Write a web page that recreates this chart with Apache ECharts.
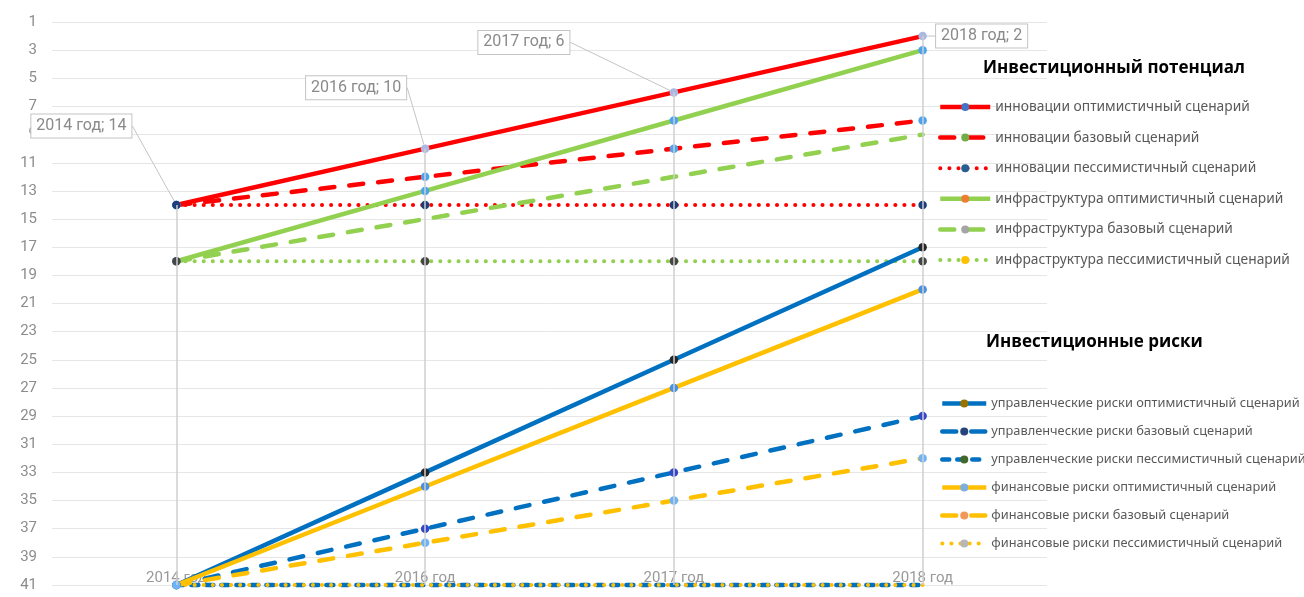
<!DOCTYPE html>
<html lang="ru">
<head>
  <meta charset="UTF-8">
  <script src="https://cdn.jsdelivr.net/npm/echarts@6/dist/echarts.min.js"></script>
  <title>Инвестиционный потенциал и риски</title>
  <style>
    html, body { margin: 0; padding: 0; background: #fff; }
    .container { width: 1304px; height: 597px; }
  </style>
</head>
<body>
  <div class="container"></div>
  <script>
    // categories and axis
    const years = ['2014 год', '2016 год', '2017 год', '2018 год'];
    const yMin = 1;
    const yMax = 41;
    const yStep = 2;

    // инвестиционный потенциал (место в рейтинге)
    const innovOpt = [14, 10, 6, 2];
    const innovBase = [14, 12, 10, 8];
    const innovPess = [14, 14, 14, 14];
    const infraOpt = [18, 13, 8, 3];
    const infraBase = [18, 15, 12, 9];
    const infraPess = [18, 18, 18, 18];

    // инвестиционные риски
    const mgmtOpt = [41, 33, 25, 17];
    const mgmtBase = [41, 37, 33, 29];
    const mgmtPess = [41, 41, 41, 41];
    const finOpt = [41, 34, 27, 20];
    const finBase = [41, 38, 35, 32];
    const finPess = [41, 41, 41, 41];

    const potentialNames = [
      'инновации оптимистичный сценарий',
      'инновации базовый сценарий',
      'инновации пессимистичный сценарий',
      'инфраструктура оптимистичный сценарий',
      'инфраструктура базовый сценарий',
      'инфраструктура пессимистичный сценарий',
    ];
    const riskNames = [
      'управленческие риски оптимистичный сценарий',
      'управленческие риски базовый сценарий',
      'управленческие риски пессимистичный сценарий',
      'финансовые риски оптимистичный сценарий',
      'финансовые риски базовый сценарий',
      'финансовые риски пессимистичный сценарий',
    ];

    const allValues = [innovOpt, innovBase, innovPess, infraOpt, infraBase, infraPess,
      mgmtOpt, mgmtBase, mgmtPess, finOpt, finBase, finPess];

    const RED = '#ff0000', GREEN = '#92d050', BLUE = '#0070c0', YELLOW = '#ffc000';
    const SOLID = 'solid';
    const DASH = [14, 15];
    const DOT = [0.1, 9];
    const SHORT = [7, 8];

    const mkSeries = (name, data, color, dash, marker, width) => ({
      name: name,
      type: 'line',
      data: data,
      clip: false,
      symbol: marker ? 'circle' : 'none',
      symbolSize: 8.5,
      showSymbol: !!marker,
      itemStyle: { color: marker || color },
      lineStyle: {
        color: color,
        width: width || 4.5,
        type: dash,
        cap: dash === SOLID ? 'butt' : 'round',
      },
      emphasis: { disabled: true },
    });

    // сдвиг подписей-выносок относительно точек
    const labelShift = [[-95, -79], [-69, -61], [-150, -50], [59, 0]];

    const series = [
      // опускающиеся линии от верхней точки до оси
      {
        name: 'drop',
        type: 'line',
        data: [],
        z: 1,
        silent: true,
        markLine: {
          symbol: 'none',
          silent: true,
          label: { show: false },
          lineStyle: { color: '#cfcfcf', width: 1.5, type: 'solid' },
          data: years.map((y, i) => [
            { coord: [y, Math.min(...allValues.map(s => s[i]))] },
            { coord: [y, yMax] },
          ]),
        },
      },
      Object.assign(mkSeries(potentialNames[0], innovOpt, RED, SOLID, '#aab8e2'), {
        label: {
          show: true,
          position: 'inside',
          formatter: '{b}; {c}',
          fontFamily: 'Roboto',
          fontSize: 16,
          color: '#8a8a8a',
          backgroundColor: '#fff',
          borderColor: '#c4c4c4',
          borderWidth: 1,
          padding: [4, 5, 3, 5],
        },
        labelLine: { show: true, lineStyle: { color: '#c4c4c4', width: 1 } },
        labelLayout: (p) => ({ dx: labelShift[p.dataIndex][0], dy: labelShift[p.dataIndex][1] }),
      }),
      mkSeries(potentialNames[1], innovBase, RED, DASH, '#4da3ee'),
      mkSeries(potentialNames[2], innovPess, RED, DOT, '#1c3f7c', 4),
      mkSeries(potentialNames[3], infraOpt, GREEN, SOLID, '#4da3ee'),
      mkSeries(potentialNames[4], infraBase, GREEN, DASH, null),
      mkSeries(potentialNames[5], infraPess, GREEN, DOT, '#454545', 4),
      mkSeries(riskNames[0], mgmtOpt, BLUE, SOLID, '#262626'),
      mkSeries(riskNames[1], mgmtBase, BLUE, DASH, '#3646c8'),
      mkSeries(riskNames[2], mgmtPess, BLUE, SHORT, null),
      mkSeries(riskNames[3], finOpt, YELLOW, SOLID, '#4a90e2'),
      mkSeries(riskNames[4], finBase, YELLOW, DASH, '#6cb4f5'),
      mkSeries(riskNames[5], finPess, YELLOW, DOT, null, 4),
    ];

    const potentialDots = ['#4472c4', '#70ad47', '#255e91', '#ed7d31', '#a5a5a5', '#ffc000'];
    const riskDots = ['#997300', '#264478', '#43682b', '#7cafdd', '#f1975a', '#b7b7b7'];

    const chart = echarts.init(document.querySelector('.container'));
    const options = {
      animation: false,
      title: [
        {
          text: 'Инвестиционный потенциал',
          left: 983,
          top: 60,
          padding: 0,
          textStyle: { fontFamily: 'Open Sans', fontWeight: 'bold', fontSize: 17, color: '#000' },
        },
        {
          text: 'Инвестиционные риски',
          left: 986,
          top: 334,
          padding: 0,
          textStyle: { fontFamily: 'Open Sans', fontWeight: 'bold', fontSize: 17, color: '#000' },
        },
      ],
      legend: [
        {
          orient: 'vertical',
          left: 938,
          top: 99,
          padding: 0,
          itemWidth: 50,
          itemHeight: 10,
          itemGap: 14.6,
          selectedMode: false,
          lineStyle: { width: 'inherit' },
          textStyle: { fontFamily: 'Noto Sans', fontSize: 13.8, color: '#595959', lineHeight: 16 },
          data: potentialNames.map((n, i) => ({ name: n, itemStyle: { color: potentialDots[i] } })),
        },
        {
          orient: 'vertical',
          left: 940,
          top: 396,
          padding: 0,
          itemWidth: 44,
          itemHeight: 10,
          itemGap: 13,
          selectedMode: false,
          lineStyle: { width: 'inherit' },
          textStyle: { fontFamily: 'Noto Sans', fontSize: 12.8, color: '#595959', lineHeight: 15 },
          data: riskNames.map((n, i) => ({ name: n, itemStyle: { color: riskDots[i] } })),
        },
      ],
      grid: { left: 52, right: 257, top: 22, bottom: 12, containLabel: false },
      xAxis: {
        type: 'category',
        data: years,
        boundaryGap: true,
        axisLine: { show: false },
        axisTick: { show: false },
        splitLine: { show: false },
        axisLabel: { margin: -14, fontFamily: 'Roboto', fontSize: 15, color: '#999' },
      },
      yAxis: {
        type: 'value',
        inverse: true,
        min: yMin,
        max: yMax,
        interval: yStep,
        axisLine: { show: false },
        axisTick: { show: false },
        axisLabel: { margin: 15, fontFamily: 'Roboto', fontSize: 15, color: '#8c8c8c' },
        splitLine: { lineStyle: { color: '#e6e6e6', width: 1 } },
      },
      series: series,
    };

    chart.setOption(options);
  </script>
</body>
</html>
